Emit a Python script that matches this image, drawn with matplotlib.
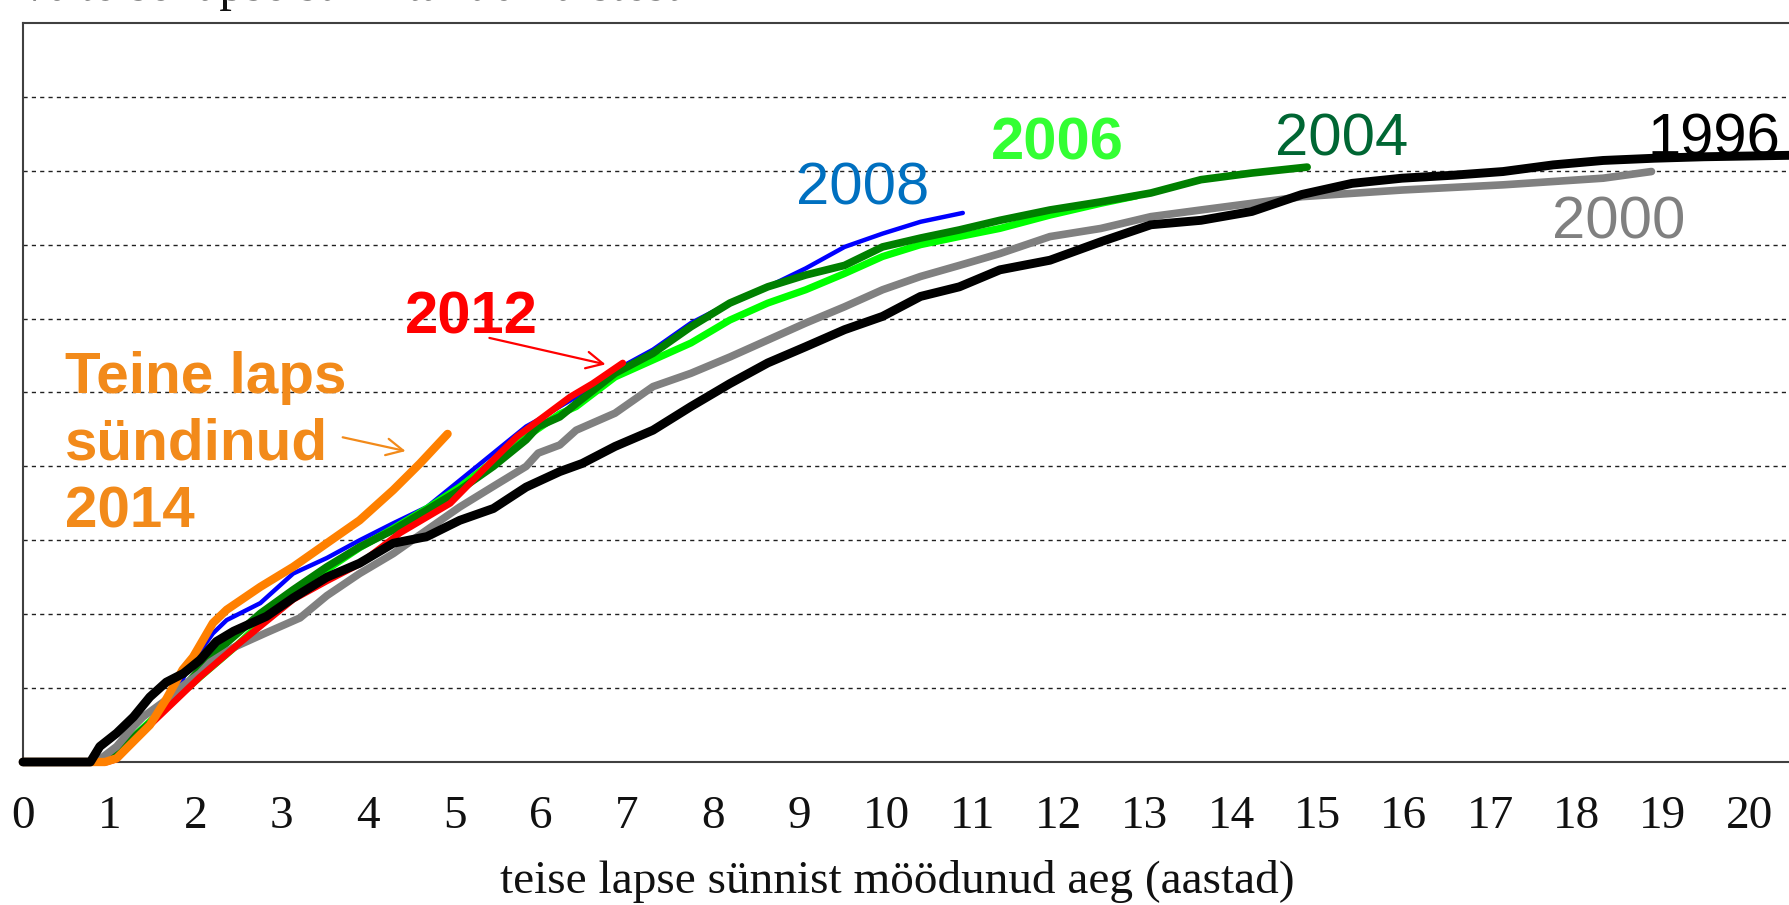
import matplotlib
matplotlib.use("Agg")
import matplotlib.pyplot as plt

# ---------------- data ----------------
x_ticks = list(range(0, 21))

x_1996 = [0, 0.78, 0.89, 1.085, 1.28, 1.47, 1.66, 1.86, 2.05, 2.24, 2.44, 2.82, 3.13, 3.52, 3.90,
          4.29, 4.68, 5.06, 5.45, 5.83, 6.22, 6.48, 6.86, 7.30, 7.74, 8.19, 8.63, 9.07, 9.52, 9.96,
          10.40, 10.85, 11.32, 11.90, 12.49, 13.07, 13.65, 14.24, 14.82, 15.40, 15.98, 16.57,
          17.15, 17.73, 18.31, 18.90, 19.48, 21.0]
y_1996 = [0, 0, 0.021, 0.039, 0.061, 0.088, 0.108, 0.120, 0.138, 0.163, 0.177, 0.197, 0.222, 0.250,
          0.269, 0.296, 0.305, 0.327, 0.343, 0.372, 0.393, 0.404, 0.427, 0.449, 0.481, 0.512, 0.540,
          0.562, 0.585, 0.603, 0.630, 0.643, 0.666, 0.679, 0.704, 0.727, 0.733, 0.745, 0.768, 0.783,
          0.790, 0.794, 0.799, 0.808, 0.814, 0.817, 0.819, 0.822]

x_2000 = [0, 0.85, 1.085, 1.28, 1.39, 1.66, 1.78, 2.05, 2.17, 2.44, 2.82, 3.21, 3.52, 3.90, 4.29,
          4.68, 5.06, 5.45, 5.83, 5.97, 6.22, 6.41, 6.86, 7.30, 7.74, 8.19, 8.63, 9.07, 9.52, 9.96,
          10.40, 10.85, 11.32, 11.90, 12.49, 13.07, 13.65, 14.24, 14.82, 15.98, 17.15, 18.31, 18.87]
y_2000 = [0, 0, 0.021, 0.048, 0.061, 0.084, 0.097, 0.120, 0.135, 0.155, 0.175, 0.195, 0.225, 0.255,
          0.282, 0.314, 0.345, 0.373, 0.400, 0.418, 0.429, 0.449, 0.472, 0.508, 0.526, 0.548, 0.571,
          0.594, 0.616, 0.639, 0.657, 0.672, 0.688, 0.711, 0.722, 0.738, 0.747, 0.756, 0.765, 0.774,
          0.781, 0.790, 0.799]

x_2004 = [0, 0.90, 1.10, 1.50, 2.05, 2.17, 2.75, 3.13, 3.52, 3.90, 4.29, 4.68, 5.06, 5.45, 5.83,
          5.97, 6.22, 6.41, 6.86, 7.30, 7.74, 8.19, 8.63, 9.07, 9.52, 9.96, 10.40, 10.85, 11.32,
          11.90, 12.49, 13.07, 13.65, 14.24, 14.88]
y_2004 = [0, 0, 0.015, 0.055, 0.125, 0.142, 0.201, 0.233, 0.264, 0.291, 0.314, 0.341, 0.368, 0.400,
          0.436, 0.454, 0.467, 0.485, 0.526, 0.553, 0.589, 0.621, 0.643, 0.659, 0.672, 0.697, 0.709,
          0.720, 0.733, 0.747, 0.758, 0.770, 0.788, 0.797, 0.805]

x_2006 = [0, 0.93, 1.28, 1.66, 2.05, 2.50, 3.13, 3.90, 4.29, 4.68, 5.06, 5.45, 5.83, 6.22, 6.41,
          6.86, 7.30, 7.74, 8.19, 8.63, 9.07, 9.52, 9.96, 10.40, 10.85, 11.32, 11.90, 12.49, 12.90]
y_2006 = [0, 0, 0.034, 0.075, 0.115, 0.160, 0.230, 0.290, 0.316, 0.343, 0.372, 0.407, 0.440, 0.471,
          0.481, 0.521, 0.544, 0.567, 0.598, 0.621, 0.639, 0.661, 0.684, 0.700, 0.711, 0.722, 0.740,
          0.756, 0.766]

x_2008 = [0, 0.95, 1.085, 1.47, 1.80, 1.97, 2.09, 2.20, 2.36, 2.75, 3.13, 3.52, 3.90, 4.29, 4.68,
          5.06, 5.45, 5.83, 5.97, 6.22, 6.41, 6.86, 7.30, 7.74, 8.19, 8.63, 9.07, 9.52, 9.96, 10.40,
          10.89]
y_2008 = [0, 0, 0.005, 0.052, 0.100, 0.140, 0.156, 0.174, 0.192, 0.215, 0.255, 0.276, 0.300, 0.323,
          0.345, 0.381, 0.418, 0.454, 0.463, 0.481, 0.494, 0.530, 0.558, 0.594, 0.621, 0.643, 0.668,
          0.697, 0.715, 0.731, 0.743]

x_2012 = [0, 0.97, 1.085, 1.47, 2.05, 2.50, 3.13, 3.52, 3.90, 4.37, 4.95, 5.33, 5.72, 6.34, 6.60,
          6.95]
y_2012 = [0, 0, 0.004, 0.050, 0.115, 0.160, 0.220, 0.245, 0.268, 0.310, 0.350, 0.395, 0.440, 0.494,
          0.512, 0.540]

x_2014 = [0, 0.95, 1.085, 1.47, 1.66, 1.85, 1.97, 2.20, 2.36, 2.75, 3.13, 3.52, 3.90, 4.29, 4.60,
          4.92]
y_2014 = [0, 0, 0.005, 0.050, 0.085, 0.125, 0.142, 0.188, 0.206, 0.237, 0.264, 0.296, 0.327, 0.368,
          0.404, 0.444]

# ---------------- figure ----------------
W, H = 1789, 905
fig = plt.figure(figsize=(W / 100, H / 100), dpi=100)
px_per_year = 86.3
ax = fig.add_axes([23 / W, 143 / H, 21 * px_per_year / W, 739 / H])
ax.set_xlim(0, 21)
ax.set_ylim(0, 1.0)

for s in ax.spines.values():
    s.set_color("#404040")
    s.set_linewidth(1.5)

ax.set_yticks([i / 10 for i in range(1, 10)])
ax.set_yticklabels([])
ax.yaxis.grid(True, color="#202020", linestyle=(0, (3, 3)), linewidth=1.0)
ax.tick_params(axis="y", length=0)
ax.set_xticks(x_ticks)
ax.set_xticklabels([str(v) for v in x_ticks], family="Liberation Serif", fontsize=34, color="#111111")
ax.tick_params(axis="x", length=0, pad=24)

kw = dict(solid_capstyle="round", solid_joinstyle="round", clip_on=False)
ax.plot(x_2008, y_2008, color="#0000FF", lw=3.2, zorder=3, **kw)
ax.plot(x_2006, y_2006, color="#00FF00", lw=5.2, zorder=4, **kw)
ax.plot(x_2004, y_2004, color="#008000", lw=5.5, zorder=5, **kw)
ax.plot(x_2000, y_2000, color="#808080", lw=5.5, zorder=6, **kw)
ax.plot(x_2012, y_2012, color="#FF0000", lw=4.8, zorder=7, **kw)
ax.plot(x_2014, y_2014, color="#FF8000", lw=6.0, zorder=8, **kw)
ax.plot(x_1996, y_1996, color="#000000", lw=6.4, zorder=9, **kw)

sans = "Liberation Sans"
lab = dict(family=sans, fontsize=43, ha="center", va="baseline", zorder=10)
ax.text(19.59, 0.821, "1996", color="#000000", **lab)
ax.text(18.49, 0.709, "2000", color="#808080", **lab)
ax.text(15.28, 0.821, "2004", color="#006633", **lab)
ax.text(11.98, 0.815, "2006", color="#33FF33", fontweight="bold", **lab)
ax.text(9.73, 0.754, "2008", color="#0070C0", **lab)
ax.text(5.20, 0.5805, "2012", color="#FF0000", fontweight="bold", **lab)

orange_txt = "#F28A1A"
for txt, yb in [("Teine laps", 0.499), ("sündinud", 0.410), ("2014", 0.317)]:
    ax.text(0.487, yb, txt, color=orange_txt, family=sans, fontsize=42, fontweight="bold",
            ha="left", va="baseline", zorder=10)

ax.annotate("", xy=(6.782, 0.5372), xytext=(5.373, 0.5747),
            arrowprops=dict(arrowstyle="->", color="#FF0000", lw=1.6, mutation_scale=30))
ax.annotate("", xy=(4.465, 0.4199), xytext=(3.673, 0.4402),
            arrowprops=dict(arrowstyle="->", color=orange_txt, lw=1.6, mutation_scale=30))

fig.text(897 / W, (H - 893) / H, "teise lapse sünnist möödunud aeg (aastad)",
         family="Liberation Serif", fontsize=34, ha="center", va="baseline", color="#111111")
fig.text(25 / W, 1 - 0 / H, "% teise lapse sünnitanud naistest",
         family="Liberation Serif", fontsize=36, ha="left", va="baseline", color="#111111")

fig.savefig("out.png", dpi=100)
